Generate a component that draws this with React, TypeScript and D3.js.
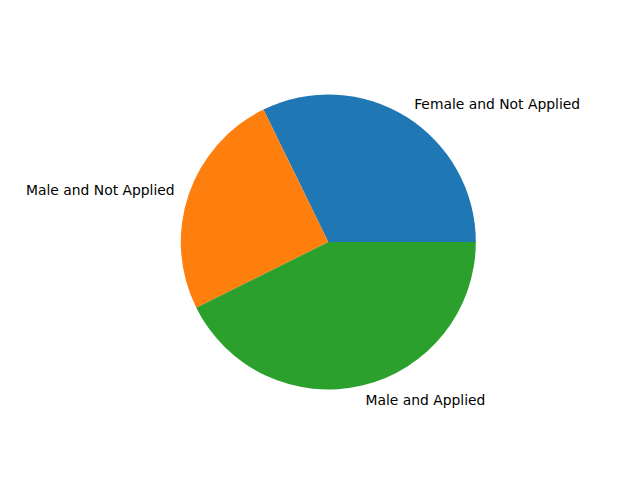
import { useEffect, useRef } from 'react';
import * as d3 from 'd3';

const labels = ['Female and Not Applied', 'Male and Not Applied', 'Male and Applied'];
const values = [32.25, 25.1, 42.65];
const colors = ['#1f77b4', '#ff7f0e', '#2ca02c'];

const App = () => {
    const svgRef = useRef<SVGSVGElement>(null);

    useEffect(() => {
        const svg = d3.select(svgRef.current);
        svg.selectAll('*').remove();

        const cx = 328.3;
        const cy = 242;
        const radius = 147.5;

        // matplotlib style: start at 3 o'clock, counterclockwise
        const pie = d3
            .pie<number>()
            .sort(null)
            .startAngle(Math.PI / 2)
            .endAngle(Math.PI / 2 - 2 * Math.PI);

        const arcs = pie(values);
        const arc = d3.arc<d3.PieArcDatum<number>>().innerRadius(0).outerRadius(radius);

        const g = svg.append('g').attr('transform', `translate(${cx},${cy})`);

        g.selectAll('path')
            .data(arcs)
            .enter()
            .append('path')
            .attr('d', arc)
            .attr('fill', (d, i) => colors[i]);

        g.selectAll('text')
            .data(arcs)
            .enter()
            .append('text')
            .each(function (d, i) {
                const mid = (d.startAngle + d.endAngle) / 2;
                const x = Math.sin(mid) * radius * 1.1;
                const y = -Math.cos(mid) * radius * 1.1;
                d3.select(this)
                    .attr('x', x)
                    .attr('y', y)
                    .attr('text-anchor', x > 0 ? 'start' : 'end')
                    .attr('dominant-baseline', 'central')
                    .text(labels[i]);
            })
            .attr('font-family', 'DejaVu Sans')
            .attr('font-size', '13.89px')
            .attr('fill', '#000');
    }, []);

    return (
        <div style={{ margin: -8 }}>
            <svg ref={svgRef} width={640} height={480} style={{ display: 'block', background: '#fff' }}></svg>
        </div>
    );
};

export default App;
